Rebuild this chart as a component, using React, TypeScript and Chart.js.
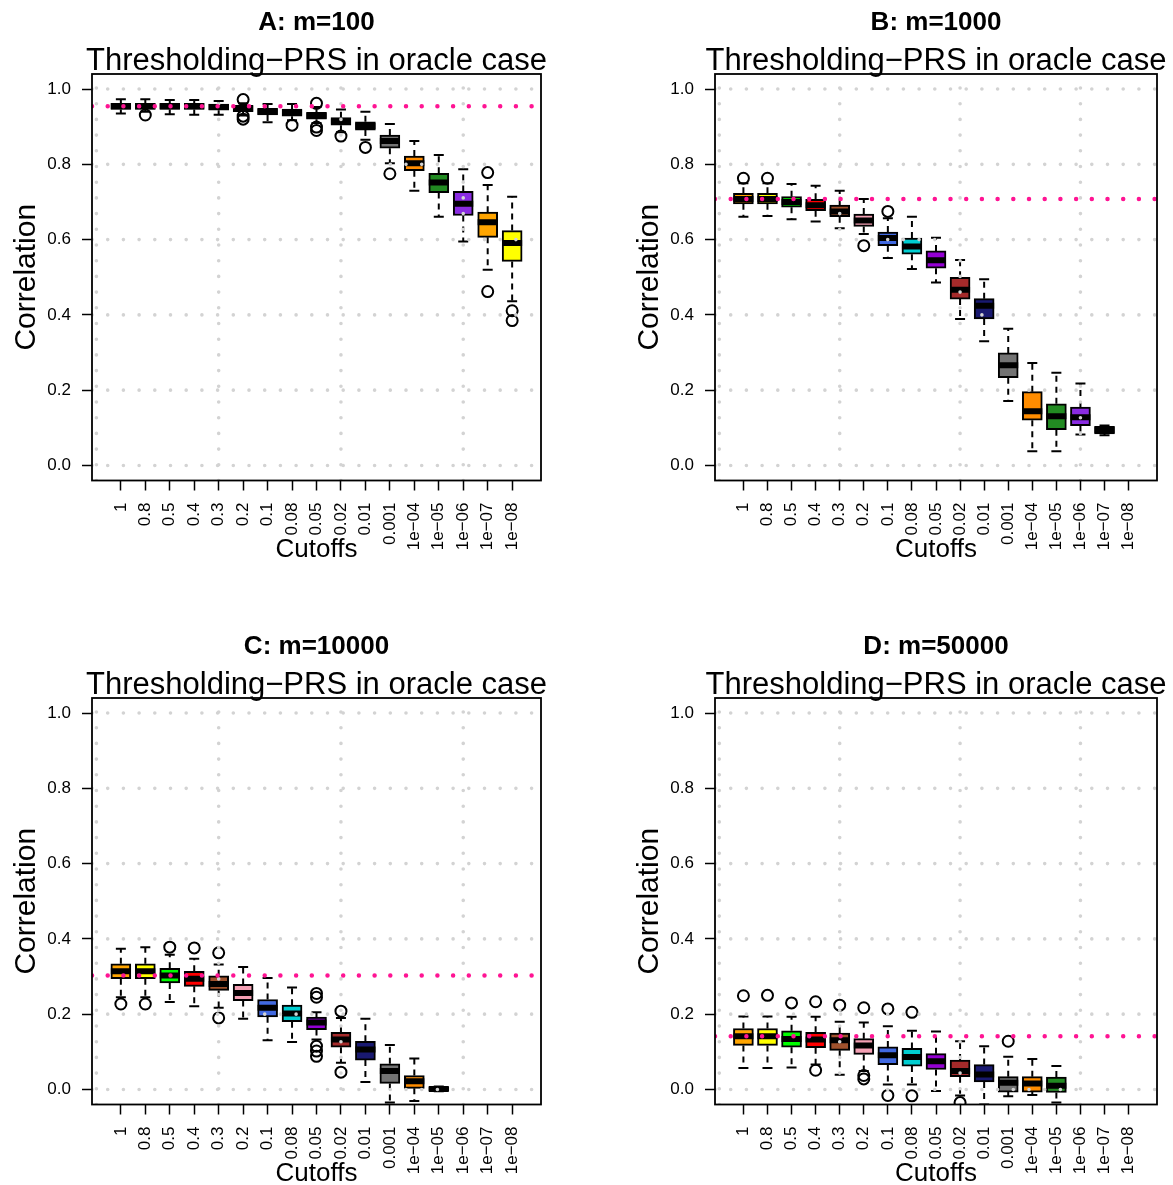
import React, { useEffect, useRef } from "react";
import { Chart, registerables } from "chart.js";
Chart.register(...registerables);

const FONT = '"Liberation Sans", Arial, sans-serif';

const CUTOFFS = ["1", "0.8", "0.5", "0.4", "0.3", "0.2", "0.1", "0.08", "0.05", "0.02", "0.01", "0.001", "1e\u221204", "1e\u221205", "1e\u221206", "1e\u221207", "1e\u221208"];
const BOX_COLORS = ["#FFA500", "#FFFF00", "#00FF00", "#FF0000", "#A0522D", "#F4A0B4", "#4169E1", "#00CED1", "#9400D3", "#A52A2A", "#191970", "#737373", "#FF8C00", "#228B22", "#8A2BE2", "#FFA500", "#FFFF00"];
const Y_TICKS = [0, 0.2, 0.4, 0.6, 0.8, 1.0];
const X_GRID = [0, 5, 10, 15];
const X_MIN = -0.18;
const X_MAX = 18.18;
const Y_MIN = -0.04;
const Y_MAX = 1.04;

// Panel A: m=100
const A_LOW = [0.935, 0.940, 0.933, 0.932, 0.932, 0.930, 0.912, 0.917, 0.910, 0.885, 0.865, 0.803, 0.730, 0.661, 0.595, 0.520, 0.436];
const A_Q1 = [0.946, 0.946, 0.946, 0.946, 0.944, 0.940, 0.931, 0.928, 0.920, 0.904, 0.891, 0.843, 0.783, 0.725, 0.664, 0.606, 0.542];
const A_MED = [0.954, 0.954, 0.954, 0.954, 0.952, 0.948, 0.940, 0.938, 0.929, 0.914, 0.902, 0.862, 0.803, 0.752, 0.695, 0.646, 0.591];
const A_Q3 = [0.962, 0.962, 0.962, 0.962, 0.960, 0.957, 0.949, 0.947, 0.938, 0.924, 0.913, 0.878, 0.822, 0.776, 0.728, 0.673, 0.624];
const A_HIGH = [0.973, 0.973, 0.971, 0.971, 0.968, 0.962, 0.960, 0.960, 0.952, 0.946, 0.940, 0.907, 0.862, 0.825, 0.787, 0.745, 0.714];
const A_OUT = [[2, 0.931], [6, 0.972], [6, 0.928], [6, 0.920], [8, 0.904], [9, 0.962], [9, 0.899], [9, 0.890], [10, 0.875], [11, 0.845], [12, 0.775], [16, 0.778], [16, 0.462], [17, 0.411], [17, 0.385]];
const A_REF = 0.954;

// Panel B: m=1000
const B_LOW = [0.661, 0.663, 0.654, 0.648, 0.630, 0.615, 0.551, 0.522, 0.486, 0.389, 0.330, 0.171, 0.038, 0.038, 0.082, 0.080];
const B_Q1 = [0.695, 0.695, 0.686, 0.677, 0.661, 0.635, 0.584, 0.561, 0.524, 0.442, 0.389, 0.233, 0.120, 0.095, 0.106, 0.084];
const B_MED = [0.708, 0.708, 0.700, 0.691, 0.675, 0.651, 0.604, 0.582, 0.545, 0.467, 0.424, 0.266, 0.144, 0.131, 0.128, 0.094];
const B_Q3 = [0.723, 0.723, 0.714, 0.707, 0.692, 0.668, 0.620, 0.604, 0.570, 0.500, 0.443, 0.299, 0.196, 0.164, 0.155, 0.104];
const B_HIGH = [0.750, 0.750, 0.748, 0.743, 0.730, 0.708, 0.657, 0.661, 0.605, 0.546, 0.495, 0.363, 0.272, 0.246, 0.218, 0.106];
const B_OUT = [[1, 0.763], [2, 0.763], [6, 0.584], [7, 0.675]];
const B_REF = 0.708;

// Panel C: m=10000
const C_LOW = [0.245, 0.245, 0.232, 0.221, 0.217, 0.188, 0.131, 0.126, 0.133, 0.071, 0.020, -0.035, -0.031, -0.005];
const C_Q1 = [0.294, 0.294, 0.283, 0.274, 0.263, 0.236, 0.193, 0.180, 0.159, 0.112, 0.078, 0.016, 0.003, -0.004];
const C_MED = [0.314, 0.314, 0.303, 0.294, 0.280, 0.256, 0.217, 0.202, 0.178, 0.133, 0.106, 0.049, 0.022, 0.0015];
const C_Q3 = [0.334, 0.334, 0.322, 0.314, 0.302, 0.279, 0.239, 0.224, 0.192, 0.152, 0.128, 0.068, 0.037, 0.007];
const C_HIGH = [0.374, 0.378, 0.358, 0.347, 0.332, 0.325, 0.296, 0.271, 0.205, 0.190, 0.188, 0.118, 0.082, 0.008];
const C_OUT = [[1, 0.227], [2, 0.227], [3, 0.378], [4, 0.376], [5, 0.363], [5, 0.190], [9, 0.255], [9, 0.245], [9, 0.115], [9, 0.102], [9, 0.088], [10, 0.208], [10, 0.046]];
const C_REF = 0.303;

// Panel D: m=50000
const D_LOW = [0.057, 0.057, 0.058, 0.066, 0.039, 0.049, 0.013, 0.013, -0.004, -0.016, -0.040, -0.018, -0.015, -0.035];
const D_Q1 = [0.117, 0.117, 0.112, 0.111, 0.104, 0.093, 0.066, 0.062, 0.053, 0.034, 0.020, -0.007, -0.007, -0.008];
const D_MED = [0.141, 0.141, 0.134, 0.133, 0.131, 0.117, 0.091, 0.086, 0.075, 0.049, 0.040, 0.018, 0.016, 0.010];
const D_Q3 = [0.162, 0.162, 0.156, 0.152, 0.150, 0.135, 0.113, 0.109, 0.095, 0.078, 0.066, 0.034, 0.034, 0.033];
const D_HIGH = [0.194, 0.194, 0.193, 0.193, 0.180, 0.178, 0.168, 0.156, 0.154, 0.128, 0.115, 0.087, 0.081, 0.062];
const D_OUT = [[1, 0.249], [2, 0.250], [3, 0.230], [4, 0.233], [4, 0.051], [5, 0.224], [6, 0.217], [6, 0.037], [6, 0.028], [7, 0.214], [7, -0.016], [8, 0.205], [8, -0.017], [10, -0.035], [12, 0.128]];
const D_REF = 0.141;

const SUBTITLE = "Thresholding\u2212PRS in oracle case";

const PANELS = [
  { key: "A", title: "A: m=100", low: A_LOW, q1: A_Q1, med: A_MED, q3: A_Q3, high: A_HIGH, out: A_OUT, ref: A_REF, left: 0, top: 0, width: 623, height: 624 },
  { key: "B", title: "B: m=1000", low: B_LOW, q1: B_Q1, med: B_MED, q3: B_Q3, high: B_HIGH, out: B_OUT, ref: B_REF, left: 623, top: 0, width: 550, height: 624 },
  { key: "C", title: "C: m=10000", low: C_LOW, q1: C_Q1, med: C_MED, q3: C_Q3, high: C_HIGH, out: C_OUT, ref: C_REF, left: 0, top: 624, width: 623, height: 561 },
  { key: "D", title: "D: m=50000", low: D_LOW, q1: D_Q1, med: D_MED, q3: D_Q3, high: D_HIGH, out: D_OUT, ref: D_REF, left: 623, top: 624, width: 550, height: 561 },
];

const AREA_LEFT = 92;
const AREA_RIGHT = 541;
const AREA_TOP = 74;
const AREA_BOTTOM = 480.5;
const DOT_GAP = 15.7;

function makeConfig(p: any) {
  const idx = p.q1.map((_: number, i: number) => i);
  const boxes = idx.map((i: number) => ({ x: i + 1, y: [p.q1[i], p.q3[i]] }));
  const meds = idx.map((i: number) => ({ x: i + 1, y: p.med[i] }));
  const whiskers: any[] = [];
  idx.forEach((i: number) => {
    whiskers.push({ x: i + 1, y: p.q3[i] }, { x: i + 1, y: p.high[i] }, { x: i + 1, y: null });
    whiskers.push({ x: i + 1, y: p.q1[i] }, { x: i + 1, y: p.low[i] }, { x: i + 1, y: null });
  });
  const staples: any[] = [];
  idx.forEach((i: number) => {
    staples.push({ x: i + 1, y: p.low[i] }, { x: i + 1, y: p.high[i] });
  });
  const outs = p.out.map((o: number[]) => ({ x: o[0], y: o[1] }));
  const refLine = [{ x: X_MIN, y: p.ref }, { x: X_MAX, y: p.ref }];

  const gridPlugin = {
    id: "rgrid",
    beforeDatasetDraw(chart: any, args: any) {
      const ds = chart.data.datasets[args.index];
      if (ds.label !== "ref") return;
      const { ctx, chartArea } = chart;
      const xs = chart.scales.x;
      const ys = chart.scales.y;
      ctx.save();
      ctx.beginPath();
      ctx.rect(chartArea.left, chartArea.top, chartArea.right - chartArea.left, chartArea.bottom - chartArea.top);
      ctx.clip();
      ctx.strokeStyle = "#D3D3D3";
      ctx.lineWidth = 3.6;
      ctx.lineCap = "round";
      ctx.setLineDash([0, DOT_GAP]);
      Y_TICKS.forEach((v) => {
        const y = ys.getPixelForValue(v);
        ctx.beginPath();
        ctx.moveTo(chartArea.left, y);
        ctx.lineTo(chartArea.right, y);
        ctx.stroke();
      });
      X_GRID.forEach((v) => {
        const x = xs.getPixelForValue(v);
        ctx.beginPath();
        ctx.moveTo(x, chartArea.bottom);
        ctx.lineTo(x, chartArea.top);
        ctx.stroke();
      });
      ctx.restore();
    },
  };

  const textPlugin = {
    id: "rtext",
    afterDraw(chart: any) {
      const { ctx, chartArea } = chart;
      const cx = (chartArea.left + chartArea.right) / 2;
      const cy = (chartArea.top + chartArea.bottom) / 2;
      ctx.save();
      ctx.setLineDash([]);
      ctx.strokeStyle = "#000";
      ctx.lineWidth = 1.8;
      ctx.strokeRect(chartArea.left, chartArea.top, chartArea.right - chartArea.left, chartArea.bottom - chartArea.top);
      ctx.fillStyle = "#000";
      ctx.textAlign = "center";
      ctx.textBaseline = "middle";
      ctx.font = "bold 26px " + FONT;
      ctx.fillText(p.title, cx, 23);
      ctx.font = "31px " + FONT;
      ctx.fillText(SUBTITLE, cx, 61);
      ctx.font = "26px " + FONT;
      ctx.fillText("Cutoffs", cx, 550);
      ctx.translate(27, cy);
      ctx.rotate(-Math.PI / 2);
      ctx.font = "30px " + FONT;
      ctx.fillText("Correlation", 0, 0);
      ctx.restore();
    },
  };

  return {
    type: "bar",
    data: {
      datasets: [
        { type: "line", label: "whiskers", data: whiskers, borderColor: "#000", borderWidth: 2, borderDash: [6, 5], pointRadius: 0, spanGaps: false, fill: false, order: 6 },
        { type: "bar", label: "boxes", data: boxes, backgroundColor: BOX_COLORS.slice(0, boxes.length), borderColor: "#000", borderWidth: 2, borderSkipped: false, barThickness: 20, order: 5 },
        { type: "scatter", label: "medians", data: meds, pointStyle: "line", pointRadius: 10, pointBorderWidth: 6, borderColor: "#000", pointBorderColor: "#000", order: 4 },
        { type: "scatter", label: "staples", data: staples, pointStyle: "line", pointRadius: 5, pointBorderWidth: 2, borderColor: "#000", pointBorderColor: "#000", order: 3 },
        { type: "scatter", label: "outliers", data: outs, pointStyle: "circle", pointRadius: 5.5, pointBorderWidth: 2, pointBorderColor: "#000", pointBackgroundColor: "rgba(0,0,0,0)", backgroundColor: "rgba(0,0,0,0)", borderColor: "#000", order: 2 },
        { type: "line", label: "ref", data: refLine, borderColor: "#FF1493", borderWidth: 4.5, borderDash: [0, DOT_GAP], borderCapStyle: "round", pointRadius: 0, fill: false, order: 0 },
      ],
    },
    options: {
      animation: false,
      responsive: false,
      maintainAspectRatio: false,
      devicePixelRatio: 1,
      events: [],
      layout: { padding: { left: 0, top: AREA_TOP, right: p.width - AREA_RIGHT, bottom: 0 } },
      plugins: { legend: { display: false }, tooltip: { enabled: false }, title: { display: false } },
      scales: {
        x: {
          type: "linear",
          min: X_MIN,
          max: X_MAX,
          offset: false,
          afterBuildTicks: (s: any) => {
            s.ticks = CUTOFFS.map((_, i) => ({ value: i + 1 }));
          },
          afterFit: (s: any) => {
            s.height = p.height - AREA_BOTTOM;
          },
          ticks: {
            autoSkip: false,
            minRotation: 90,
            maxRotation: 90,
            padding: 12,
            color: "#000",
            font: { family: FONT, size: 17 },
            callback: (v: number) => CUTOFFS[Math.round(v) - 1] ?? "",
          },
          grid: { display: true, drawOnChartArea: false, drawTicks: true, tickLength: 10, tickWidth: 1.5, tickColor: "#000", offset: false },
          border: { display: false },
        },
        y: {
          type: "linear",
          min: Y_MIN,
          max: Y_MAX,
          afterBuildTicks: (s: any) => {
            s.ticks = Y_TICKS.map((v) => ({ value: v }));
          },
          afterFit: (s: any) => {
            s.width = AREA_LEFT;
          },
          ticks: {
            padding: 11,
            color: "#000",
            font: { family: FONT, size: 17 },
            callback: (v: number) => v.toFixed(1),
          },
          grid: { display: true, drawOnChartArea: false, drawTicks: true, tickLength: 10, tickWidth: 1.5, tickColor: "#000" },
          border: { display: false },
        },
      },
    },
    plugins: [gridPlugin, textPlugin],
  };
}

function Panel({ p }: { p: any }) {
  const ref = useRef<HTMLCanvasElement | null>(null);
  useEffect(() => {
    if (!ref.current) return;
    const chart = new Chart(ref.current, makeConfig(p) as any);
    return () => chart.destroy();
  }, [p]);
  return (
    <canvas
      ref={ref}
      width={p.width}
      height={p.height}
      style={{ position: "absolute", left: p.left, top: p.top, width: p.width, height: p.height }}
    />
  );
}

export default function App() {
  return (
    <div style={{ position: "absolute", left: 0, top: 0, width: 1173, height: 1185, background: "#fff", overflow: "hidden" }}>
      {PANELS.map((p) => (
        <Panel key={p.key} p={p} />
      ))}
    </div>
  );
}
